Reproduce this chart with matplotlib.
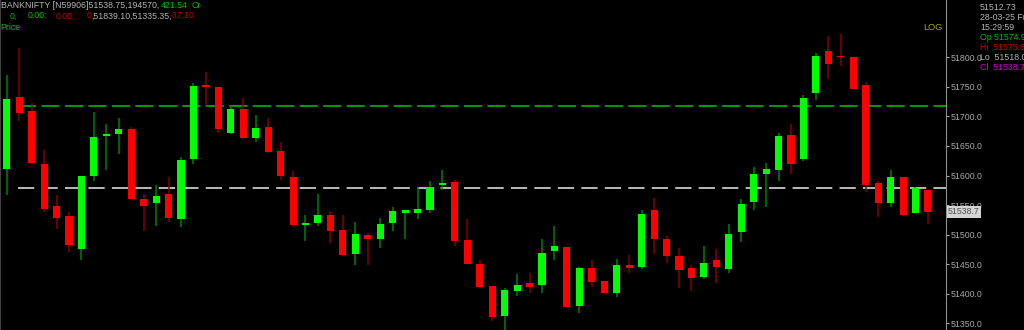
import matplotlib
matplotlib.use("Agg")
import matplotlib.pyplot as plt
import numpy as np

# === candle data
opens = [51611, 51733, 51710, 51619, 51548, 51532, 51476, 51599, 51667, 51671,
         51679, 51560, 51553, 51568, 51526, 51628, 51753, 51750, 51672, 51713,
         51663, 51682, 51642, 51598, 51516, 51520, 51534, 51508, 51468, 51500,
         51492, 51520, 51537, 51537, 51542, 51584, 51589, 51491, 51451, 51414,
         51362, 51404, 51418, 51415, 51473, 51480, 51380, 51444, 51421, 51402,
         51448, 51445, 51541, 51493, 51464, 51444, 51428, 51457, 51442, 51505,
         51555, 51602, 51609, 51669, 51628, 51739, 51811, 51803, 51801, 51753,
         51588, 51554, 51598, 51537, 51574.95]
highs = [51770, 51815, 51723, 51643, 51567, 51539, 51600, 51708, 51687, 51697,
         51682, 51569, 51584, 51598, 51631, 51756, 51775, 51750, 51718, 51731,
         51702, 51698, 51657, 51608, 51533, 51569, 51540, 51533, 51522, 51503,
         51529, 51547, 51541, 51580, 51590, 51609, 51593, 51527, 51457, 51414,
         51410, 51433, 51435, 51493, 51514, 51480, 51446, 51457, 51421, 51459,
         51466, 51542, 51562, 51498, 51477, 51448, 51481, 51476, 51518, 51560,
         51615, 51621, 51672, 51688, 51736, 51808, 51836, 51839.1, 51801, 51759,
         51590, 51610, 51598, 51580, 51575.6]
lows = [51567, 51692, 51619, 51539, 51510, 51470, 51457, 51590, 51610, 51637,
        51561, 51507, 51515, 51522, 51513, 51619, 51720, 51672, 51670, 51661,
        51657, 51638, 51592, 51513, 51489, 51515, 51486, 51464, 51449, 51449,
        51478, 51507, 51493, 51526, 51536, 51576, 51481, 51451, 51410, 51354,
        51335.35, 51397, 51402, 51402, 51457, 51378, 51367, 51412, 51401, 51395,
        51436, 51442, 51468, 51452, 51410, 51405, 51425, 51418, 51436, 51487,
        51542, 51546, 51590, 51602, 51624, 51728, 51764, 51786, 51746, 51573,
        51530, 51547, 51532, 51537, 51518.05]
closes = [51729, 51706, 51622, 51543, 51529, 51482, 51600, 51665, 51670, 51678,
          51561, 51549, 51565, 51529, 51626, 51751, 51749, 51678, 51713, 51663,
          51680, 51639, 51600, 51517, 51520, 51534, 51506, 51466, 51501, 51492,
          51518, 51540, 51541, 51543, 51580, 51588, 51489, 51451, 51412, 51361,
          51407, 51415, 51412, 51469, 51481, 51378, 51443, 51420, 51401, 51448,
          51444, 51535, 51492, 51464, 51441, 51427, 51452, 51445, 51501, 51552,
          51603, 51611, 51667, 51620, 51732, 51802, 51789, 51800, 51746, 51584,
          51553, 51598, 51534, 51579, 51538.75]

green_level = 51717
white_level = 51578.5
y_ticks = [51350, 51400, 51450, 51500, 51550, 51600, 51650, 51700, 51750, 51800]
last_price = "51538.7"

info_lines = [("51512.73", "#b4b4b4"), ("28-03-25 Fr", "#b4b4b4"), ("15:29:59", "#b4b4b4"),
              ("Op 51574.95", "#00c000"), ("Hi  51575.60", "#d00000"),
              ("Lo  51518.05", "#b4b4b4"), ("Cl  51538.75", "#d000d0")]

header = [
    # (text, color, x px, y px)
    ("BANKNIFTY [N59906]51538.75,194570,", "#b4b4b4", 1, 6),
    ("421.54", "#00c000", 161, 6),
    ("Cr", "#00c000", 192, 6),
    ("0,", "#00c000", 10, 16),
    ("0.00:", "#00c000", 28, 16),
    ("0.00,", "#c00000", 56, 16),
    ("0", "#c00000", 87, 16),
    (",51839.10,51335.35,", "#b4b4b4", 91, 16),
    ("-37.10", "#c00000", 170, 16),
    ("Price", "#00c000", 0, 27),
]

W, H = 1024, 330
fig = plt.figure(figsize=(W / 100, H / 100), dpi=100, facecolor="black")
ax = fig.add_axes([0, 0, 946 / W, 1])
ax.set_facecolor("black")

o = np.array(opens)
h = np.array(highs)
l = np.array(lows)
c = np.array(closes)
x = np.arange(len(o))
up = c >= o

# wicks
ax.vlines(x[up], l[up], h[up], color="#008000", lw=1.1, zorder=2)
ax.vlines(x[~up], l[~up], h[~up], color="#8a0000", lw=1.1, zorder=2)

# bodies
bottom = np.minimum(o, c)
height = np.maximum(np.abs(c - o), 3.0)
ax.bar(x[up], height[up], bottom=bottom[up], width=0.57, color="#00ff00", zorder=3)
ax.bar(x[~up], height[~up], bottom=bottom[~up], width=0.57, color="#ff0000", zorder=3)

# reference levels
ax.hlines(green_level, 0.9, 80, colors="#00a800", lw=1.3, linestyles=(0, (10, 3)), zorder=1)
ax.hlines(white_level, 0.9, 80, colors="#c8c8c8", lw=1.3, linestyles=(0, (9, 4)), zorder=1)

ax.set_xlim(-0.54, 75.45)
ax.set_ylim(51338.8, 51896.9)

ax.yaxis.tick_right()
ax.set_yticks(y_ticks)
ax.set_yticklabels(["%.1f" % v for v in y_ticks])
ax.tick_params(axis="y", colors="#a8a8a8", labelsize=6.3, length=2.5, width=0.8, pad=0.5,
               labelfontfamily="Liberation Sans")
ax.set_xticks([])
for s in ["top", "bottom"]:
    ax.spines[s].set_visible(False)
ax.spines["right"].set_color("#909090")
ax.spines["left"].set_color("#404040")

# last price box
ax.text(1.002, closes[-1], last_price, transform=ax.get_yaxis_transform(), ha="left", va="center",
        fontsize=6.3, family="Liberation Sans", color="#505050", clip_on=False, zorder=5,
        bbox=dict(boxstyle="square,pad=0.15", fc="#d4d4d4", ec="none"))

ax.text(943 / 946, 1 - 27 / H, "LOG", transform=ax.transAxes, ha="right", va="center",
        fontsize=6.6, family="Liberation Sans", color="#a8a800")

for txt, col, px, py in header:
    fig.text(px / W, 1 - py / H, txt, color=col, fontsize=6.3, family="Liberation Sans",
             ha="left", va="center")

for i, (txt, col) in enumerate(info_lines):
    fig.text(980 / W, 1 - (7 + i * 10) / H, txt, color=col, fontsize=6.3,
             family="Liberation Sans", ha="left", va="center")

fig.savefig("out.png", dpi=100, facecolor="black")
